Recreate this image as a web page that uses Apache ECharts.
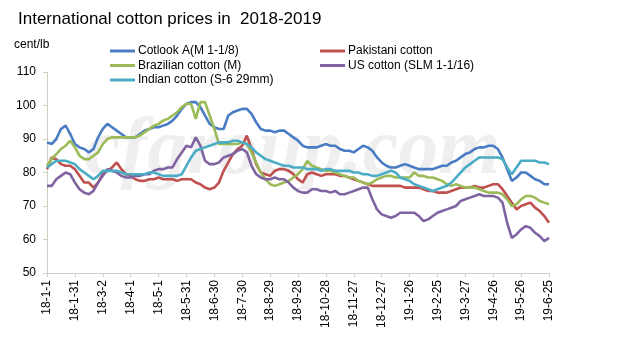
<!DOCTYPE html>
<html>
<head>
<meta charset="utf-8">
<script src="https://cdn.jsdelivr.net/npm/echarts@6/dist/echarts.min.js"></script>
<style>
  html, body { margin: 0; padding: 0; background: #fff; }
  #main { width: 628px; height: 352px; }
</style>
</head>
<body>
<div id="main"></div>
<script>
// one point every 5 days, 2018-01-01 .. 2019-06-25
const categories = [];
const start = Date.UTC(2018, 0, 1);
for (let i = 0; i < 109; i++) {
  const d = new Date(start + i * 5 * 86400000);
  categories.push((d.getUTCFullYear() % 100) + "-" + (d.getUTCMonth() + 1) + "-" + d.getUTCDate());
}

const cotlookA = [
  89, 88.5, 90, 93, 94, 91.5, 88.5, 87.5, 87, 86,
  87, 90.5, 93, 94.5, 93.5, 92.5, 91.5, 90.5, 90.5, 90.5,
  91.5, 92.5, 93, 93.5, 93.5, 94, 94.5, 95.5, 97, 99,
  100.5, 101, 101, 99.5, 97, 94.5, 93.5, 93, 93, 97,
  98, 98.5, 99, 99, 97.5, 95, 93, 92.5, 92.5, 92,
  92.5, 92.5, 91.5, 90.5, 89.5, 88, 87.5, 87.5, 87.5, 88,
  88.5, 88, 88, 87, 86.5, 86.5, 86, 87, 88, 87.5,
  86.5, 84.5, 83, 82, 81.5, 81.5, 82, 82.5, 82, 81.5,
  81, 81, 81, 81, 81.5, 82, 82, 83, 83.5, 84.5,
  85.5, 86, 87, 87.5, 87.5, 88, 88, 87, 84.5, 81,
  77.5, 78.5, 80, 80, 79, 78, 77.5, 76.5, 76.5
];
const pakistani = [
  81, 84.5, 84, 82.5, 82, 82, 81, 79, 77, 77,
  75.5, 77, 79.5, 80.5, 81.5, 83, 81, 79.5, 79, 78,
  77.5, 77.5, 78, 78, 78.5, 78, 78, 78, 77.5, 78,
  78, 78, 77, 76.5, 75.5, 75, 75.5, 77, 80.5, 83,
  85.5, 87, 88, 91, 87, 82.5, 80, 79.5, 79, 80.5,
  81, 81, 80.5, 79.5, 78, 77, 79.5, 80, 79.5, 79,
  79.5, 79.5, 79.5, 79, 79, 78.5, 78, 77.5, 77, 76.5,
  76, 76, 76, 76, 76, 76, 76, 75.5, 75.5, 75.5,
  75.5, 75, 74.5, 74.5, 74, 74, 74, 74.5, 75, 75.5,
  75.5, 75.5, 76, 75.5, 75.5, 76, 76.5, 76.5, 75, 73,
  71, 69, 70, 70.5, 71, 69.5, 68.5, 67, 65
];
const brazilian = [
  82, 84, 85.5, 87, 88, 89.5, 87.5, 85, 84, 84,
  85, 86, 88.5, 90, 90.5, 90.5, 90.5, 90.5, 90.5, 90.5,
  91, 92, 93, 94, 94.5, 95.5, 96, 97, 98, 99.5,
  100.5, 100.5, 96, 101, 101, 97, 93, 88.5, 88.5, 88.5,
  88.5, 88.5, 89, 88.5, 86, 83, 80, 78, 76.5, 76,
  76.5, 77, 77.5, 78.5, 79.5, 81, 83.5, 82, 81.5, 81,
  80.5, 80.5, 80, 79.5, 79, 78.5, 78.5, 77.5, 77, 76.5,
  77, 78, 78.5, 79, 79, 78.5, 78.5, 78.5, 78.5, 80,
  79, 79, 78.5, 78.5, 78, 77.5, 76.5, 76, 76.5, 76,
  75.5, 75.5, 75.5, 75, 74.5, 74, 74, 74, 73.5, 72,
  70, 70.5, 72, 73, 73, 72.5, 71.5, 71, 70.5
];
const usCotton = [
  76, 76, 78, 79, 80, 79.5, 77, 75, 74, 73.5,
  74.5, 77, 79, 81, 80.5, 80, 79, 78.5, 78.5, 79,
  79, 79.5, 79.5, 80.5, 81, 81, 81.5, 81.5, 84, 86,
  88, 87.5, 90.5, 88, 83.5, 82.5, 82.5, 83, 84.5, 85,
  85.5, 86.5, 87, 86, 82, 79.5, 78.5, 78, 78, 78.5,
  78, 78, 77, 75.5, 74.5, 74, 74, 75, 75, 74.5,
  74.5, 74, 74.5, 73.5, 73.5, 74, 74.5, 75, 75.5, 75.5,
  72, 69, 67.5, 67, 66.5, 67, 68, 68, 68, 68,
  67, 65.5, 66, 67, 68, 68.5, 69, 69.5, 70, 71.5,
  72, 72.5, 73, 73.5, 73, 73, 73, 72.5, 71, 65,
  60.5, 61.5, 63, 64, 63.5, 62, 61, 59.5, 60.5
];
const indian = [
  81.5, 82.5, 83.5, 83.5, 83.5, 83, 82.5, 81, 80, 79,
  78, 79, 80.5, 80.5, 80.5, 80.5, 80, 79.5, 79.5, 79.5,
  79.5, 79.5, 80, 80, 79.5, 79, 79, 79, 79, 79.5,
  82, 84.5, 86.5, 87, 87.5, 88, 88.5, 89, 89, 89,
  89.5, 89.5, 89, 88.5, 87.5, 86, 85, 84, 83.5, 83,
  82.5, 82, 82, 81.5, 81.5, 81.5, 81, 81, 81, 80.5,
  81, 81, 80.5, 80.5, 80.5, 80.5, 80, 80, 79.5, 79.5,
  79, 79, 79.5, 80, 80.5, 80, 78.5, 78, 77.5, 76.5,
  76, 75.5, 75, 74.5, 75, 75.5, 76, 77, 78.5, 80,
  81.5, 82.5, 83.5, 84.5, 84.5, 84.5, 84.5, 84.5, 84, 81.5,
  79.5, 81.5, 83.5, 83.5, 83.5, 83.5, 83, 83, 82.5
];

const fontFamily = "Liberation Sans, Arial, sans-serif";
const axisColor = "#d3cec4";

const myChart = echarts.init(document.getElementById("main"));

const mkSeries = (name, data, color) => ({
  name: name,
  type: "line",
  data: data,
  symbol: "none",
  lineStyle: { width: 2.6, color: color },
  itemStyle: { color: color },
});

const legendCommon = {
  orient: "vertical",
  icon: "rect",
  itemWidth: 25,
  itemHeight: 3,
  itemGap: 2.5,
  textStyle: { fontSize: 12, color: "#000", fontFamily: fontFamily, padding: [0, 0, 0, -2] },
};

const option = {
  backgroundColor: "#fff",
  animation: false,
  title: {
    text: "International cotton prices in  2018-2019",
    left: 13,
    top: 6,
    textStyle: { fontSize: 17, fontWeight: "normal", color: "#000", fontFamily: fontFamily },
  },
  graphic: [
    {
      type: "text",
      left: 14,
      top: 39,
      style: { text: "cent/lb", fontSize: 12, fill: "#000", fontFamily: fontFamily },
    },
    {
      type: "text",
      left: 85,
      top: 112,
      z: -1,
      style: { text: "cfgroup.com", font: "italic bold 80px Liberation Serif, serif", fill: "#efefef" },
    },
  ],
  legend: [
    Object.assign({ left: 105, top: 40, data: ["Cotlook A(M 1-1/8)", "Brazilian cotton (M)", "Indian cotton (S-6 29mm)"] }, legendCommon),
    Object.assign({ left: 315, top: 40, data: ["Pakistani cotton", "US cotton (SLM 1-1/16)"] }, legendCommon),
  ],
  grid: { left: 47, right: 79, top: 72, bottom: 79 },
  xAxis: {
    type: "category",
    data: categories,
    boundaryGap: false,
    axisLine: { lineStyle: { color: axisColor } },
    axisTick: { interval: 5, length: 4, lineStyle: { color: axisColor } },
    axisLabel: { interval: 5, rotate: 90, margin: 7, fontSize: 12, color: "#000", fontFamily: fontFamily },
    splitLine: { show: false },
  },
  yAxis: {
    type: "value",
    min: 50,
    max: 110,
    interval: 10,
    axisLine: { show: true, lineStyle: { color: axisColor } },
    axisTick: { show: true, length: 4, lineStyle: { color: axisColor } },
    axisLabel: { margin: 11, fontSize: 12, color: "#000", fontFamily: fontFamily },
    splitLine: { show: false },
  },
  series: [
    mkSeries("Cotlook A(M 1-1/8)", cotlookA, "#4a7cc3"),
    mkSeries("Pakistani cotton", pakistani, "#c0504d"),
    mkSeries("Brazilian cotton (M)", brazilian, "#9bbb59"),
    mkSeries("US cotton (SLM 1-1/16)", usCotton, "#8064a2"),
    mkSeries("Indian cotton (S-6 29mm)", indian, "#4bacc6"),
  ],
};

myChart.setOption(option);
</script>
</body>
</html>
